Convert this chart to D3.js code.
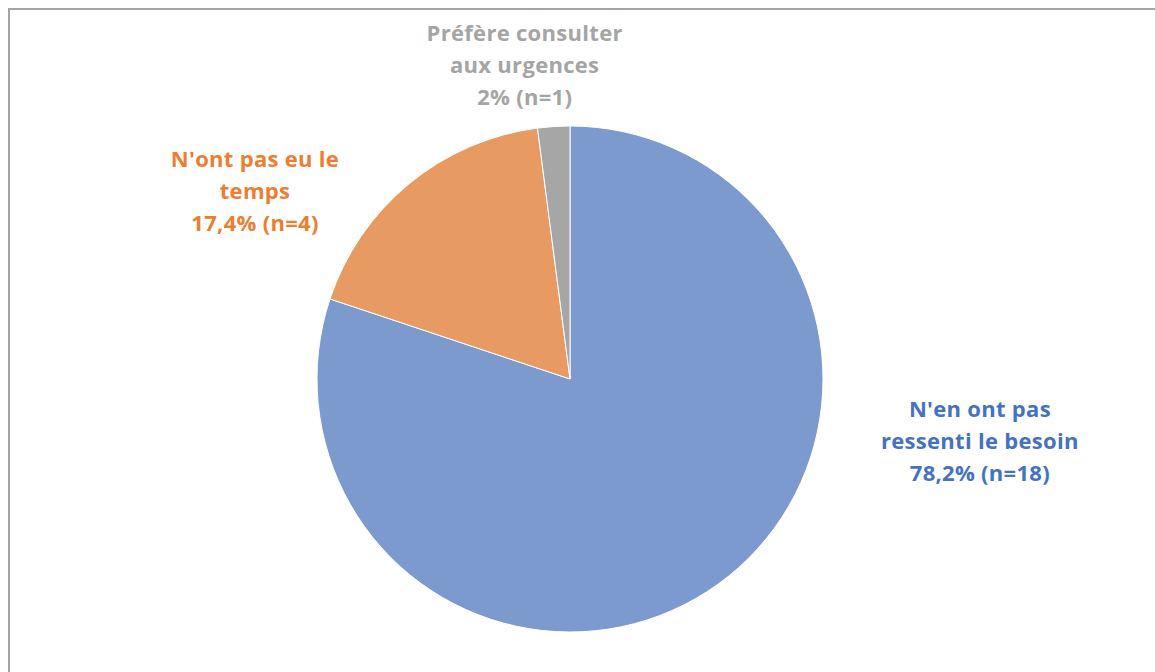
<!DOCTYPE html>
<html>
<head>
<meta charset="utf-8">
<script src="https://cdn.jsdelivr.net/npm/d3@7"></script>
<style>
  body { margin: 0; background: #fff; }
  svg { display: block; }
  .lbl { font-family: "Open Sans", Lato, sans-serif; font-weight: bold; font-size: 22px; letter-spacing: 0.3px; }
</style>
</head>
<body>
<div id="chart"></div>
<script>
var categories = ["N'en ont pas ressenti le besoin", "N'ont pas eu le temps", "Préfère consulter aux urgences"];
var values = [78.2, 17.4, 2];
var labelLines = [
  ["N'en ont pas", "ressenti le besoin", "78,2% (n=18)"],
  ["N'ont pas eu le", "temps", "17,4% (n=4)"],
  ["Préfère consulter", "aux urgences", "2% (n=1)"]
];
var sliceColors = ["#7C9ACE", "#E89A63", "#A6A6A6"];
var textColors = ["#4472C4", "#ED7D31", "#A5A5A5"];

var svgWidth = 1155, svgHeight = 672;
var cx = 570, cy = 379, radius = 253;

var svg = d3.select("#chart")
  .append("svg")
  .attr("width", svgWidth)
  .attr("height", svgHeight);

// chart frame (only top and left edges show)
svg.append("path")
  .attr("d", "M9,672 L9,9 L1155,9")
  .attr("fill", "none")
  .attr("stroke", "#a3a3a3")
  .attr("stroke-width", 2);

var data = categories.map(function(c, i) {
  return { name: c, value: values[i], lines: labelLines[i], i: i };
});

var pie = d3.pie()
  .sort(null)
  .value(function(d) { return d.value; });

var arc = d3.arc()
  .innerRadius(0)
  .outerRadius(radius);

var g = svg.append("g")
  .attr("transform", "translate(" + cx + "," + cy + ")");

var arcs = pie(data);

g.selectAll("path.slice").data(arcs).enter()
  .append("path")
  .attr("class", "slice")
  .attr("d", arc)
  .attr("fill", function(d) { return sliceColors[d.data.i]; })
  .attr("stroke", "#fff")
  .attr("stroke-width", 1);

// label positions: outside the pie, near the slice's mid angle, nudged like Excel does
var labelArc = d3.arc().innerRadius(radius * 1.25).outerRadius(radius * 1.25);
var lineHeight = 32;
var labelOffsets = [[225, -194], [-114, 56], [-25, 2]];

arcs.forEach(function(d) {
  var c = labelArc.centroid(d);
  var k = d.data.i;
  var x = c[0] + labelOffsets[k][0];
  var y = c[1] + labelOffsets[k][1];
  var t = g.append("text")
    .attr("class", "lbl")
    .attr("fill", textColors[k])
    .attr("text-anchor", "middle");
  d.data.lines.forEach(function(line, j) {
    t.append("tspan")
      .attr("x", x)
      .attr("y", y + (j - 1) * lineHeight)
      .attr("dy", "0.35em")
      .text(line);
  });
});
</script>
</body>
</html>
